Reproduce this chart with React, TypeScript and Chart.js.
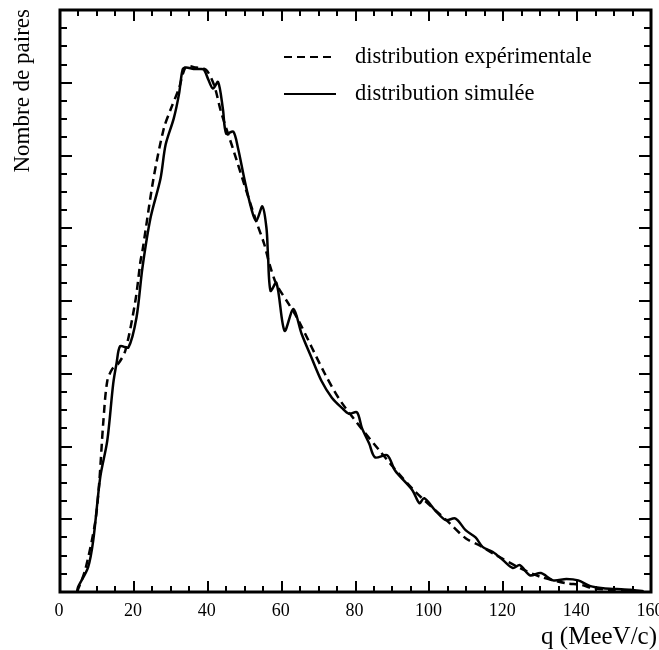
import React, { useEffect, useRef } from "react";
import { Chart, registerables } from "chart.js";

Chart.register(...registerables);

// Simulated distribution (solid)
const qSim = [4.6, 4.9, 7.6, 9.0, 10.9, 12.8, 14.4, 15.3, 16.3, 18.5, 20.7, 22.3, 24.5, 27.2, 28.6, 30.8, 32.2, 33.2, 34.1, 36.2, 38.1, 39.0, 40.1, 41.4, 42.8, 44.1, 45.0, 46.9, 48.2, 49.9, 51.8, 53.1, 54.8, 55.9, 56.3, 57.0, 58.6, 60.8, 63.2, 65.4, 68.1, 70.8, 73.6, 76.3, 78.2, 80.4, 81.7, 83.7, 85.3, 88.6, 90.7, 95.4, 97.3, 98.6, 101.6, 104.4, 107.1, 109.8, 112.5, 114.4, 117.2, 119.9, 122.6, 124.5, 127.2, 130.2, 133.5, 137.1, 140.3, 143.6, 147.1, 150.7, 154.5, 158.0];
const vSim = [0.0, 0.07, 0.34, 0.71, 1.58, 2.08, 2.86, 3.14, 3.38, 3.36, 3.77, 4.45, 5.14, 5.68, 6.15, 6.51, 6.84, 7.18, 7.21, 7.19, 7.19, 7.18, 7.05, 6.92, 7.01, 6.64, 6.30, 6.33, 6.10, 5.68, 5.27, 5.10, 5.30, 5.00, 4.64, 4.14, 4.25, 3.59, 3.89, 3.55, 3.22, 2.90, 2.67, 2.53, 2.45, 2.47, 2.26, 2.04, 1.85, 1.88, 1.67, 1.40, 1.22, 1.29, 1.12, 0.99, 1.01, 0.85, 0.75, 0.62, 0.55, 0.44, 0.33, 0.37, 0.23, 0.26, 0.16, 0.18, 0.16, 0.08, 0.05, 0.04, 0.03, 0.01];

// Experimental distribution (dashed)
const qExp = [4.6, 6.8, 9.5, 10.6, 11.7, 12.8, 14.2, 15.8, 17.7, 20.4, 21.8, 22.3, 25.3, 28.1, 30.0, 32.2, 34.1, 36.8, 39.5, 41.7, 43.6, 47.1, 49.9, 53.1, 55.3, 56.7, 58.6, 61.9, 64.6, 71.7, 76.3, 86.4, 95.4, 105.4, 109.8, 113.6, 117.2, 124.5, 130.0, 137.1, 140.9, 144.4, 149.0, 153.9];
const vExp = [0.0, 0.30, 0.95, 1.49, 2.32, 2.90, 3.07, 3.14, 3.32, 4.00, 4.55, 4.68, 5.68, 6.37, 6.64, 6.92, 7.22, 7.21, 7.18, 6.97, 6.60, 6.05, 5.60, 5.10, 4.78, 4.51, 4.23, 3.96, 3.73, 3.00, 2.60, 1.95, 1.42, 0.95, 0.74, 0.64, 0.53, 0.33, 0.21, 0.12, 0.10, 0.05, 0.03, 0.01];

const xTickValues = [0, 20, 40, 60, 80, 100, 120, 140, 160];
const xTickLabels = ["0", "20", "40", "60", "80", "100", "120", "140", "160"];
const xTitle = "q (MeeV/c)";
const yTitle = "Nombre de paires";
const legendLabels = ["distribution expérimentale", "distribution simulée"];

const SERIF = "'Liberation Serif', 'DejaVu Serif', serif";

const decorPlugin = {
  id: "decor",
  afterDraw(chart: any) {
    const ctx = chart.ctx;
    const xs = chart.scales.x;
    const ys = chart.scales.y;
    const { left, right, top, bottom } = chart.chartArea;
    ctx.save();
    ctx.strokeStyle = "#000";
    ctx.fillStyle = "#000";
    ctx.lineCap = "butt";

    // frame
    ctx.lineWidth = 3;
    ctx.strokeRect(left, top, right - left, bottom - top);

    // x ticks (bottom and top, inward)
    ctx.lineWidth = 2;
    for (let v = 0; v <= 160; v += 5) {
      const px = Math.round(xs.getPixelForValue(v));
      const len = v % 20 === 0 ? 11 : 6;
      ctx.beginPath();
      ctx.moveTo(px, bottom);
      ctx.lineTo(px, bottom - len);
      ctx.moveTo(px, top);
      ctx.lineTo(px, top + len);
      ctx.stroke();
    }
    // y ticks (left and right, inward)
    for (let i = 0; i <= 32; i++) {
      const v = i * 0.25;
      const py = Math.round(ys.getPixelForValue(v));
      const len = i % 4 === 0 ? 12 : 7;
      ctx.beginPath();
      ctx.moveTo(left, py);
      ctx.lineTo(left + len, py);
      ctx.moveTo(right, py);
      ctx.lineTo(right - len, py);
      ctx.stroke();
    }

    // x tick labels
    ctx.font = `18px ${SERIF}`;
    ctx.textAlign = "center";
    ctx.textBaseline = "alphabetic";
    xTickValues.forEach((v, i) => {
      ctx.fillText(xTickLabels[i], xs.getPixelForValue(v) - 1, bottom + 24);
    });

    // x title
    ctx.font = `25px ${SERIF}`;
    ctx.textAlign = "right";
    ctx.fillText(xTitle, 657, 644);

    // y title
    ctx.save();
    ctx.translate(29, 9);
    ctx.rotate(-Math.PI / 2);
    ctx.font = `23px ${SERIF}`;
    ctx.textAlign = "right";
    ctx.textBaseline = "alphabetic";
    ctx.fillText(yTitle, 0, 0);
    ctx.restore();

    // legend
    const lx0 = 284;
    const lx1 = 336;
    const rows = [57, 94];
    ctx.lineWidth = 2.2;
    ctx.setLineDash([8, 5]);
    ctx.beginPath();
    ctx.moveTo(lx0, rows[0]);
    ctx.lineTo(lx1, rows[0]);
    ctx.stroke();
    ctx.setLineDash([]);
    ctx.beginPath();
    ctx.moveTo(lx0, rows[1]);
    ctx.lineTo(lx1, rows[1]);
    ctx.stroke();
    ctx.font = `22.5px ${SERIF}`;
    ctx.textAlign = "left";
    ctx.textBaseline = "middle";
    ctx.fillText(legendLabels[0], 355, rows[0]);
    ctx.fillText(legendLabels[1], 355, rows[1]);

    ctx.restore();
  },
};

export default function App() {
  const ref = useRef<HTMLCanvasElement | null>(null);
  useEffect(() => {
    if (!ref.current) return;
    const chart = new Chart(ref.current, {
      type: "line",
      data: {
        datasets: [
          {
            label: legendLabels[0],
            data: qExp.map((q, i) => ({ x: q, y: vExp[i] })),
            borderColor: "#000",
            borderWidth: 2.5,
            borderDash: [8, 5],
            pointRadius: 0,
            tension: 0.3,
            fill: false,
          },
          {
            label: legendLabels[1],
            data: qSim.map((q, i) => ({ x: q, y: vSim[i] })),
            borderColor: "#000",
            borderWidth: 2.5,
            pointRadius: 0,
            tension: 0.3,
            fill: false,
          },
        ],
      },
      options: {
        responsive: false,
        animation: false,
        layout: { padding: { left: 60, right: 8, top: 10, bottom: 58 } },
        plugins: { legend: { display: false }, tooltip: { enabled: false } },
        scales: {
          x: { type: "linear", min: 0, max: 160, display: false },
          y: { type: "linear", min: 0, max: 8, display: false },
        },
      },
      plugins: [decorPlugin],
    });
    return () => chart.destroy();
  }, []);
  return (
    <div style={{ position: "absolute", left: 0, top: 0, width: 659, height: 650, background: "#fff" }}>
      <canvas ref={ref} width={659} height={650} />
    </div>
  );
}
